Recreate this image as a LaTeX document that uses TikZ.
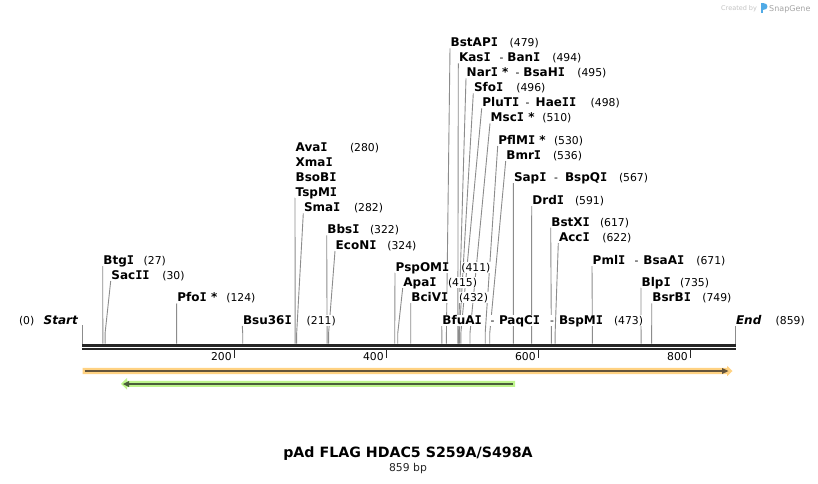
\documentclass[tikz,border=0pt]{standalone}
\usepackage{fontspec}
\setmainfont{DejaVu Sans}
\newfontfamily\monofam{DejaVu Sans Mono}
\newcommand\II{{\monofam\bfseries I}}
\pgfdeclarelayer{back}
\pgfdeclarelayer{bg}
\pgfsetlayers{back,bg,main}
\definecolor{cutgray}{RGB}{140,140,140}
\definecolor{bb}{RGB}{38,38,38}
\definecolor{orband}{RGB}{255,210,130}
\definecolor{orline}{RGB}{100,84,58}
\definecolor{grband}{RGB}{190,245,140}
\definecolor{grline}{RGB}{74,94,58}
\definecolor{wmgray}{RGB}{195,195,195}
\definecolor{wmgray2}{RGB}{165,165,165}
\definecolor{wmblue}{RGB}{80,170,230}
\tikzset{
  nm/.style={font=\bfseries\fontsize{12}{14}\selectfont, anchor=base west, inner xsep=0.5pt, inner ysep=0.5pt, fill=white, text height=8.8pt, text depth=1pt},
  nmi/.style={nm, font=\bfseries\itshape\fontsize{12}{14}\selectfont},
  nu/.style={font=\fontsize{10.8}{13}\selectfont, anchor=base west, inner xsep=0.5pt, inner ysep=0.5pt, fill=white, text height=8.8pt, text depth=1.5pt},
  cutline/.style={draw=cutgray, line width=0.9pt},
  backbone/.style={draw=bb, line width=2.6pt},
  tickline/.style={draw=bb, line width=1.6pt},
  ticklab/.style={font=\fontsize{10.8}{13}\selectfont, anchor=base east, inner sep=0pt},
}
\newcommand\nmn[4]{\node[nm] (#1) at (#2,{#3+4.3}) {#4};}
\newcommand\nun[4]{\node[nu] (#1) at (#2,{#3+4.3}) {#4};}
\newcommand\cutl[2]{%
  \coordinate (#1k) at ({82.3+#2*0.7602},333);
  \coordinate (#1c) at ({82.3+#2*0.7602},343.6);
  \begin{pgfonlayer}{bg}\draw[cutline] ([yshift=-1.7pt]#1.base west) -- (#1k) -- (#1c);\end{pgfonlayer}}
\begin{document}
\begin{tikzpicture}[x=1pt,y=-1pt]
\useasboundingbox (0,0) rectangle (818,483);
\begin{pgfonlayer}{back}
\fill[white] (0,0) rectangle (818,483);
\end{pgfonlayer}

% watermark
\node[font=\fontsize{6.5}{8}\selectfont, text=wmgray, anchor=base west, inner sep=0pt] (wm1) at (721,10) {Created by};
\fill[wmblue] (760.5,3) rectangle (763,13);
\fill[wmblue] (763,3) .. controls (768.5,3) and (768.5,9.5) .. (763,9.5) -- cycle;
\node[font=\fontsize{8}{10}\selectfont, text=wmgray2, anchor=base west, inner sep=0pt] (wm2) at (769,11) {SnapGene};

% backbone
\coordinate (bbl1) at (82.3,345.2); \coordinate (bbr1) at (735.8,345.2);
\coordinate (bbl2) at (82.3,348.8); \coordinate (bbr2) at (735.8,348.8);
\draw[backbone] (bbl1) -- (bbr1);
\draw[backbone] (bbl2) -- (bbr2);
\foreach \v/\t in {200/t2,400/t4,600/t6,800/t8}{
  \coordinate (\t a) at ({82.3+\v*0.7602},350.2);
  \coordinate (\t b) at ({82.3+\v*0.7602},357.6);
  \draw[tickline] (\t a) -- (\t b);
  \node[ticklab] (\t l) at ({82.3+\v*0.7602-2.5},360.6) {\v};
}

% start / end
\nun{zero}{18.3}{320}{(0)}
\node[nmi] (start) at (43,324.3) {Start};
\coordinate (sttop) at (82.3,325); \coordinate (stbot) at (82.3,343.6);
\begin{pgfonlayer}{bg}\draw[cutline] (sttop) -- (stbot);\end{pgfonlayer}
\node[nmi] (endl) at (735.3,324.3) {End};
\nun{endn}{775}{320}{(859)}
\coordinate (endbot) at (735.3,343.6);
\begin{pgfonlayer}{bg}\draw[cutline] ([yshift=-1.7pt]endl.base west) -- (endbot);\end{pgfonlayer}

% left enzymes
\nmn{btg}{102.7}{260}{Btg\II} \nun{btgn}{143}{260}{(27)} \cutl{btg}{27}
\nmn{sac}{110.7}{275}{Sac\II\II} \nun{sacn}{161.7}{275}{(30)} \cutl{sac}{30}
\nmn{pfo}{176.7}{297.3}{Pfo\II\ *} \nun{pfon}{225.7}{297.3}{(124)} \cutl{pfo}{124}
\nmn{bsu}{242.3}{320}{Bsu36\II} \nun{bsun}{306}{320}{(211)} \cutl{bsu}{211}

\nmn{ava}{295}{147.3}{Ava\II} \nun{avan}{349.3}{147.3}{(280)}
\nmn{xma}{295}{162.3}{Xma\II}
\nmn{bso}{295}{176.7}{BsoB\II}
\nmn{tsp}{295}{191.7}{TspM\II} \cutl{tsp}{280}
\nmn{sma}{303.3}{207.3}{Sma\II} \nun{sman}{353.3}{207.3}{(282)} \cutl{sma}{282}
\nmn{bbs}{326.7}{229.3}{Bbs\II} \nun{bbsn}{369.3}{229.3}{(322)} \cutl{bbs}{322}
\nmn{eco}{335}{245}{EcoN\II} \nun{econ}{386.7}{245}{(324)} \cutl{eco}{324}
\nmn{psp}{395}{266.7}{PspOM\II} \nun{pspn}{460.7}{266.7}{(411)} \cutl{psp}{411}
\nmn{apa}{402.7}{282}{Apa\II} \nun{apan}{447.3}{282}{(415)} \cutl{apa}{415}
\nmn{bci}{410.7}{297}{BciV\II} \nun{bcin}{458.3}{297}{(432)} \cutl{bci}{432}
\nmn{bfu}{441.7}{320}{BfuA\II} \nun{bfud}{490}{320}{-} \nmn{paq}{498.3}{320}{PaqC\II} \nun{paqd}{549.3}{320}{-} \nmn{bspm}{558.3}{320}{BspM\II} \nun{bfun}{613.3}{320}{(473)} \cutl{bfu}{473}

% upper stack
\nmn{bst}{450}{42.3}{BstAP\II} \nun{bstn}{509}{42.3}{(479)} \cutl{bst}{479}
\nmn{kas}{458.3}{57.3}{Kas\II} \nun{kasd}{499}{57.3}{-} \nmn{ban}{506.7}{57.3}{Ban\II} \nun{kasn}{551.7}{57.3}{(494)} \cutl{kas}{494}
\nmn{nar}{466}{72.3}{Nar\II\ *} \nun{nard}{515}{72.3}{-} \nmn{bsah}{522.7}{72.3}{BsaH\II} \nun{narn}{576.7}{72.3}{(495)} \cutl{nar}{495}
\nmn{sfo}{473.3}{87.3}{Sfo\II} \nun{sfon}{515.7}{87.3}{(496)} \cutl{sfo}{496}
\nmn{plu}{481.7}{102.3}{PluT\II} \nun{plud}{525}{102.3}{-} \nmn{hae}{535}{102.3}{Hae\II\II} \nun{plun}{590}{102.3}{(498)} \cutl{plu}{498}
\nmn{msc}{490}{117.3}{Msc\II\ *} \nun{mscn}{541.7}{117.3}{(510)} \cutl{msc}{510}
\nmn{pfl}{497.7}{140}{PflM\II\ *} \nun{pfln}{553.3}{140}{(530)} \cutl{pfl}{530}
\nmn{bmr}{505.7}{155}{Bmr\II} \nun{bmrn}{552.3}{155}{(536)} \cutl{bmr}{536}
\nmn{sap}{513.3}{177}{Sap\II} \nun{sapd}{553.3}{177}{-} \nmn{bspq}{564.3}{177}{BspQ\II} \nun{sapn}{618.3}{177}{(567)} \cutl{sap}{567}
\nmn{drd}{531.7}{200}{Drd\II} \nun{drdn}{574.3}{200}{(591)} \cutl{drd}{591}
\nmn{bstx}{550.7}{221.7}{BstX\II} \nun{bstxn}{599.3}{221.7}{(617)} \cutl{bstx}{617}
\nmn{acc}{558.3}{237}{Acc\II} \nun{accn}{601.7}{237}{(622)} \cutl{acc}{622}
\nmn{pml}{592}{260}{Pml\II} \nun{pmld}{634}{260}{-} \nmn{bsaa}{642.7}{260}{BsaA\II} \nun{pmln}{695.7}{260}{(671)} \cutl{pml}{671}
\nmn{blp}{641}{281.7}{Blp\II} \nun{blpn}{679.3}{281.7}{(735)} \cutl{blp}{735}
\nmn{bsr}{651.7}{297.3}{BsrB\II} \nun{bsrn}{701.7}{297.3}{(749)} \cutl{bsr}{749}

% features
\fill[orband] (82.5,367.8) -- (727,367.8) -- (727,365.8) -- (732.5,371) -- (727,376.2) -- (727,374.2) -- (82.5,374.2) -- cycle;
\draw[orline, line width=2pt] (84.5,371) -- (723,371);
\fill[orline] (722,368) -- (728.5,371) -- (722,374) -- cycle;
\fill[grband] (515,380.8) -- (127,380.8) -- (127,378) -- (121,383.8) -- (127,389.6) -- (127,386.8) -- (515,386.8) -- cycle;
\draw[grline, line width=2pt] (512.7,384) -- (129,384);
\fill[grline] (129,381) -- (123,384) -- (129,387) -- cycle;

% title
\node[font=\bfseries\fontsize{14.2}{16}\selectfont, anchor=base, inner sep=0pt] (title) at (408,457) {pAd FLAG HDAC5 S259A/S498A};
\node[font=\fontsize{10.8}{13}\selectfont, anchor=base, inner sep=0pt, text=black!85] (bplen) at (408,471) {859 bp};
\end{tikzpicture}
\end{document}
